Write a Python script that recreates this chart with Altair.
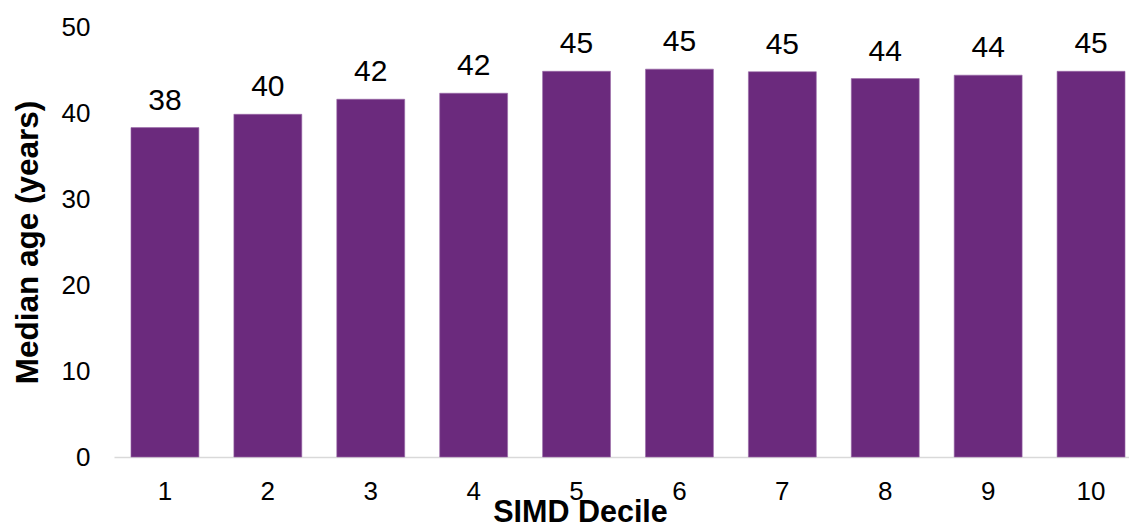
import altair as alt
import pandas as pd

deciles = ["1", "2", "3", "4", "5", "6", "7", "8", "9", "10"]
median_age = [38.3, 39.85, 41.6, 42.3, 44.85, 45.1, 44.8, 44.0, 44.4, 44.85]
labels = ["38", "40", "42", "42", "45", "45", "45", "44", "44", "45"]

df = pd.DataFrame({"decile": deciles, "age": median_age, "label": labels})

FONT = "Liberation Sans"
PURPLE = "#6B2A7D"

x = alt.X(
    "decile:N",
    sort=deciles,
    title="SIMD Decile",
    scale=alt.Scale(paddingInner=0.34, paddingOuter=0.165, range=[0, 1028]),
    axis=alt.Axis(
        labelAngle=0,
        labelFontSize=26,
        labelFont=FONT,
        labelColor="#000000",
        labelPadding=21,
        ticks=False,
        domainColor="#D9D9D9",
        domainWidth=1.5,
        titleFont=FONT,
        titleFontSize=30.5,
        titleFontWeight="bold",
        titleColor="#000000",
        titleBaseline="top",
        titleX=466,
        titleY=40,
    ),
)

y = alt.Y(
    "age:Q",
    title="Median age (years)",
    scale=alt.Scale(domain=[0, 50], nice=False),
    axis=alt.Axis(
        values=[0, 10, 20, 30, 40, 50],
        grid=False,
        domain=False,
        ticks=False,
        labelFontSize=26,
        labelFont=FONT,
        labelColor="#000000",
        labelPadding=24,
        titleFont=FONT,
        titleFontSize=31.5,
        titleFontWeight="bold",
        titleColor="#000000",
        titleBaseline="bottom",
        titleAngle=270,
        titleX=-70,
        titleY=215,
    ),
)

bars = alt.Chart(df).mark_bar(color=PURPLE, stroke="#9A6AA8", strokeWidth=0.6).encode(x=x, y=y)

text = alt.Chart(df).mark_text(
    dy=-18, baseline="alphabetic", fontSize=30, font=FONT, color="#000000"
).encode(x=alt.X("decile:N", sort=deciles), y="age:Q", text="label:N")

chart = (
    alt.layer(bars, text)
    .properties(
        width=1015,
        height=430,
        padding={"left": 114, "top": 27, "right": 0, "bottom": 65},
        autosize=alt.AutoSizeParams(type="none"),
    )
    .configure_view(stroke=None)
)

chart.save("out.html", embed_options={"renderer": "svg", "actions": False})
